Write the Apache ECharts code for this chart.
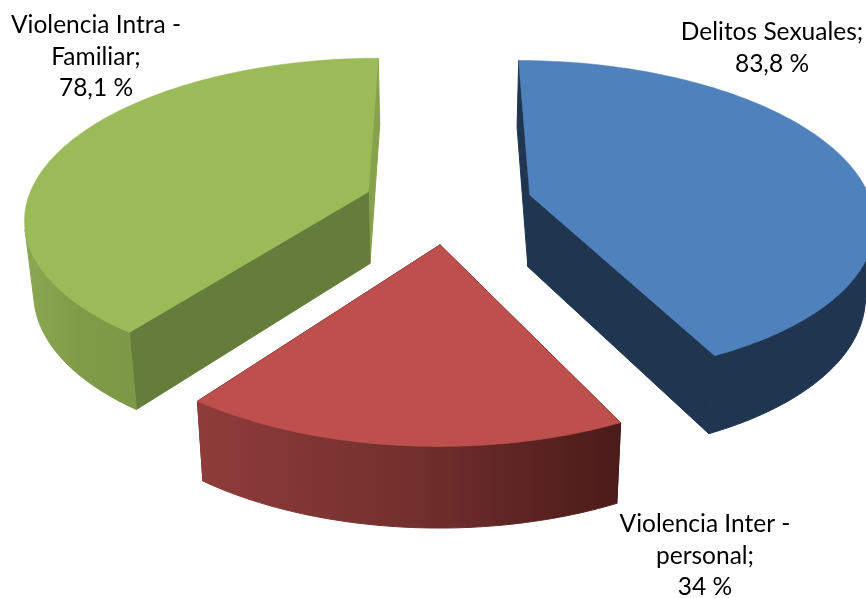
<!DOCTYPE html>
<html><head><meta charset="utf-8">
<style>html,body{margin:0;padding:0;background:#fff}#c{width:866px;height:598px}</style>
<script src="https://cdn.jsdelivr.net/npm/echarts@6/dist/echarts.min.js"></script>
</head><body><div id="c"></div>
<script>
const categories = ['Delitos Sexuales', 'Violencia Inter -\npersonal', 'Violencia Intra -\nFamiliar'];
const values = [83.8, 34, 78.1];
const valueLabels = ['83,8 %', '34 %', '78,1 %'];

// Exploded offset of each slice on the pie plane (in pie radii)
const explodeX = [0.25, -0.014, -0.227];
const explodeY = [0, -0.307, 0.02];
// Projection of the pie plane to the page
const VX = 445, VY = -836, SX = 339, SY = 1031, K = 0.15, H0 = 31, H1 = 40.7, BS = 0.978;
const topColors = ['#4F81BD', '#BD4F4C', '#9BBB59'];
const startFaceColors = ['#1F3550', '#5A2422', '#667C3B'];
const endFaceColors = ['#1F3550', '#5A2422', '#87A24D'];
const wallStops = [
  ['#1F3550', '#1F3550', '#1F3550'],
  ['#8F3C3A', '#73302E', '#4A1B19'],
  ['#8AA851', '#7F9B48', '#7D9947']
];
const labelCenters = [[772, 32], [705, 524], [96, 25]];
const LINE = 31.6;

const total = values.reduce((a, b) => a + b, 0);
const starts = values.map((v, i) => values.slice(0, i).reduce((a, b) => a + b, 0));

function project(wx, wy, low) {
  const w = 1 + K * wy;
  let x = VX + SX * wx / w, y = VY + SY / w;
  if (low) { x = VX + (x - VX) * BS; y += H0 + H1 / w; }
  return [x, y];
}
function point(i, a, r, low) {
  return project(explodeX[i] + r * Math.sin(a), explodeY[i] + r * Math.cos(a), low);
}
function arc(i, a0, a1, low) {
  const n = Math.max(2, Math.ceil((a1 - a0) / (Math.PI / 180)));
  const out = [];
  for (let k = 0; k <= n; k++) out.push(point(i, a0 + (a1 - a0) * k / n, 1, low));
  return out;
}
function poly(points, fill, z2, lineWidth) {
  return { type: 'polygon', z2, shape: { points }, style: { fill, stroke: fill, lineWidth }, silent: true };
}
function renderItem(params, api) {
  const i = params.dataIndex;
  const a0 = 2 * Math.PI * starts[i] / total;
  const a1 = a0 + 2 * Math.PI * api.value(0) / total;
  const topArc = arc(i, a0, a1, false), lowArc = arc(i, a0, a1, true);
  const apex = point(i, 0, 0, false), lowApex = point(i, 0, 0, true);
  const last = topArc.length - 1;
  // only the part of the outer wall that faces the viewer
  const vis = [];
  for (let k = 0; k < last; k++) {
    const tx = topArc[k + 1][0] - topArc[k][0], ty = topArc[k + 1][1] - topArc[k][1];
    const dx = lowArc[k][0] - topArc[k][0], dy = lowArc[k][1] - topArc[k][1];
    if (dx * ty - dy * tx > 0) vis.push(k);
  }
  const startNear = Math.cos(a0) < Math.cos(a1);
  const children = [];
  children.push(poly([topArc[0], lowArc[0], lowApex, apex], startFaceColors[i], startNear ? 2 : 1, 1));
  children.push(poly([apex, lowApex, lowArc[last], topArc[last]], endFaceColors[i], startNear ? 1 : 2, 1));
  if (vis.length) {
    const lo = vis[0], hi = Math.min(vis[vis.length - 1] + 1, last);
    const wallPts = topArc.slice(lo, hi + 1).concat(lowArc.slice(lo, hi + 1).reverse());
    children.push(poly(wallPts, new echarts.graphic.LinearGradient(0, 0, 1, 0, [
      { offset: 0, color: wallStops[i][0] }, { offset: 0.5, color: wallStops[i][1] }, { offset: 1, color: wallStops[i][2] }
    ]), 3, 1));
  }
  children.push(poly([apex].concat(topArc), topColors[i], 4, 0.5));
  const lines = (categories[i] + ';\n' + valueLabels[i]).split('\n');
  lines.forEach((t, k) => children.push({
    type: 'text', z2: 10, silent: true,
    style: {
      text: t, x: labelCenters[i][0], y: labelCenters[i][1] + k * LINE,
      align: 'center', verticalAlign: 'middle',
      font: '24.5px Lato, "Open Sans", sans-serif', fill: '#000'
    }
  }));
  return { type: 'group', children };
}
const chart = echarts.init(document.getElementById('c'), null, { renderer: 'canvas' });
chart.setOption({
  backgroundColor: '#fff',
  animation: false,
  series: [{
    type: 'custom',
    coordinateSystem: 'none',
    clip: false,
    renderItem,
    data: values.map((v, i) => ({ name: categories[i], value: [v] }))
  }]
});
</script></body></html>
